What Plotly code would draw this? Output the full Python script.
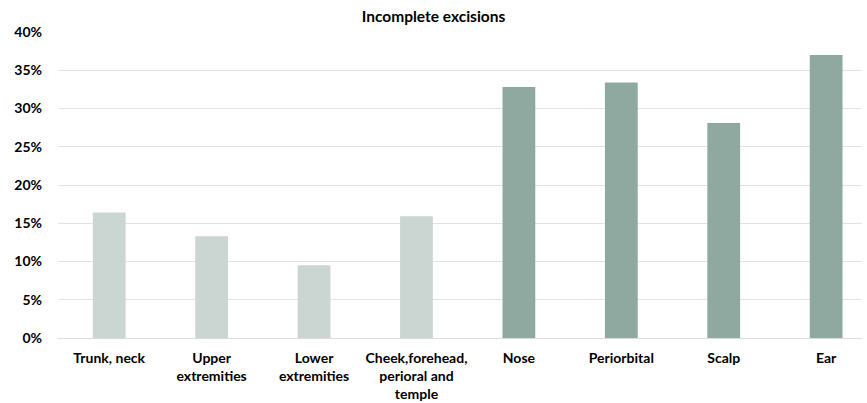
import plotly.graph_objects as go

# Share of incomplete excisions by anatomical site
categories = [
    "Trunk, neck",
    "Upper<br>extremities",
    "Lower<br>extremities",
    "Cheek,forehead,<br>perioral and<br>temple",
    "Nose",
    "Periorbital",
    "Scalp",
    "Ear",
]
incomplete_share = [0.164, 0.133, 0.095, 0.159, 0.328, 0.334, 0.281, 0.370]
bar_colors = ["#CBD5D1"] * 4 + ["#8FA8A0"] * 4

y_ticks = [0, 0.05, 0.10, 0.15, 0.20, 0.25, 0.30, 0.35, 0.40]

font_family = "Lato, 'Open Sans', sans-serif"

fig = go.Figure(
    go.Bar(
        x=list(range(len(categories))),
        y=incomplete_share,
        marker=dict(color=bar_colors, line=dict(width=0)),
        width=0.32,
        hoverinfo="skip",
    )
)

fig.update_layout(
    width=867,
    height=403,
    margin=dict(l=58, r=5, t=32, b=65, autoexpand=False),
    paper_bgcolor="white",
    plot_bgcolor="white",
    showlegend=False,
    title=dict(
        text="<b>Incomplete excisions</b>",
        x=0.5,
        xanchor="center",
        y=1 - 17 / 403,
        yanchor="middle",
        font=dict(family=font_family, size=15.5, color="#000000"),
    ),
    font=dict(family=font_family, size=13, color="#000000"),
)

fig.update_xaxes(
    tickmode="array",
    tickvals=list(range(len(categories))),
    ticktext=[f"<b>{c}</b>" for c in categories],
    range=[-0.5, 7.35],
    showgrid=False,
    zeroline=False,
    showline=False,
    ticks="",
    automargin=False,
    ticklabelstandoff=10,
    tickfont=dict(family=font_family, size=14, color="#000000"),
    fixedrange=True,
)

fig.update_yaxes(
    range=[0, 0.40],
    tickmode="array",
    tickvals=y_ticks,
    ticktext=[f"<b>{round(v * 100)}%</b>" for v in y_ticks],
    showgrid=True,
    gridcolor="#E2E2E2",
    gridwidth=1,
    zeroline=True,
    zerolinecolor="#DCDCDC",
    zerolinewidth=1,
    showline=False,
    ticks="",
    automargin=False,
    ticklabelstandoff=15,
    tickfont=dict(family=font_family, size=14, color="#000000"),
    fixedrange=True,
)

fig.write_html("out.html")
